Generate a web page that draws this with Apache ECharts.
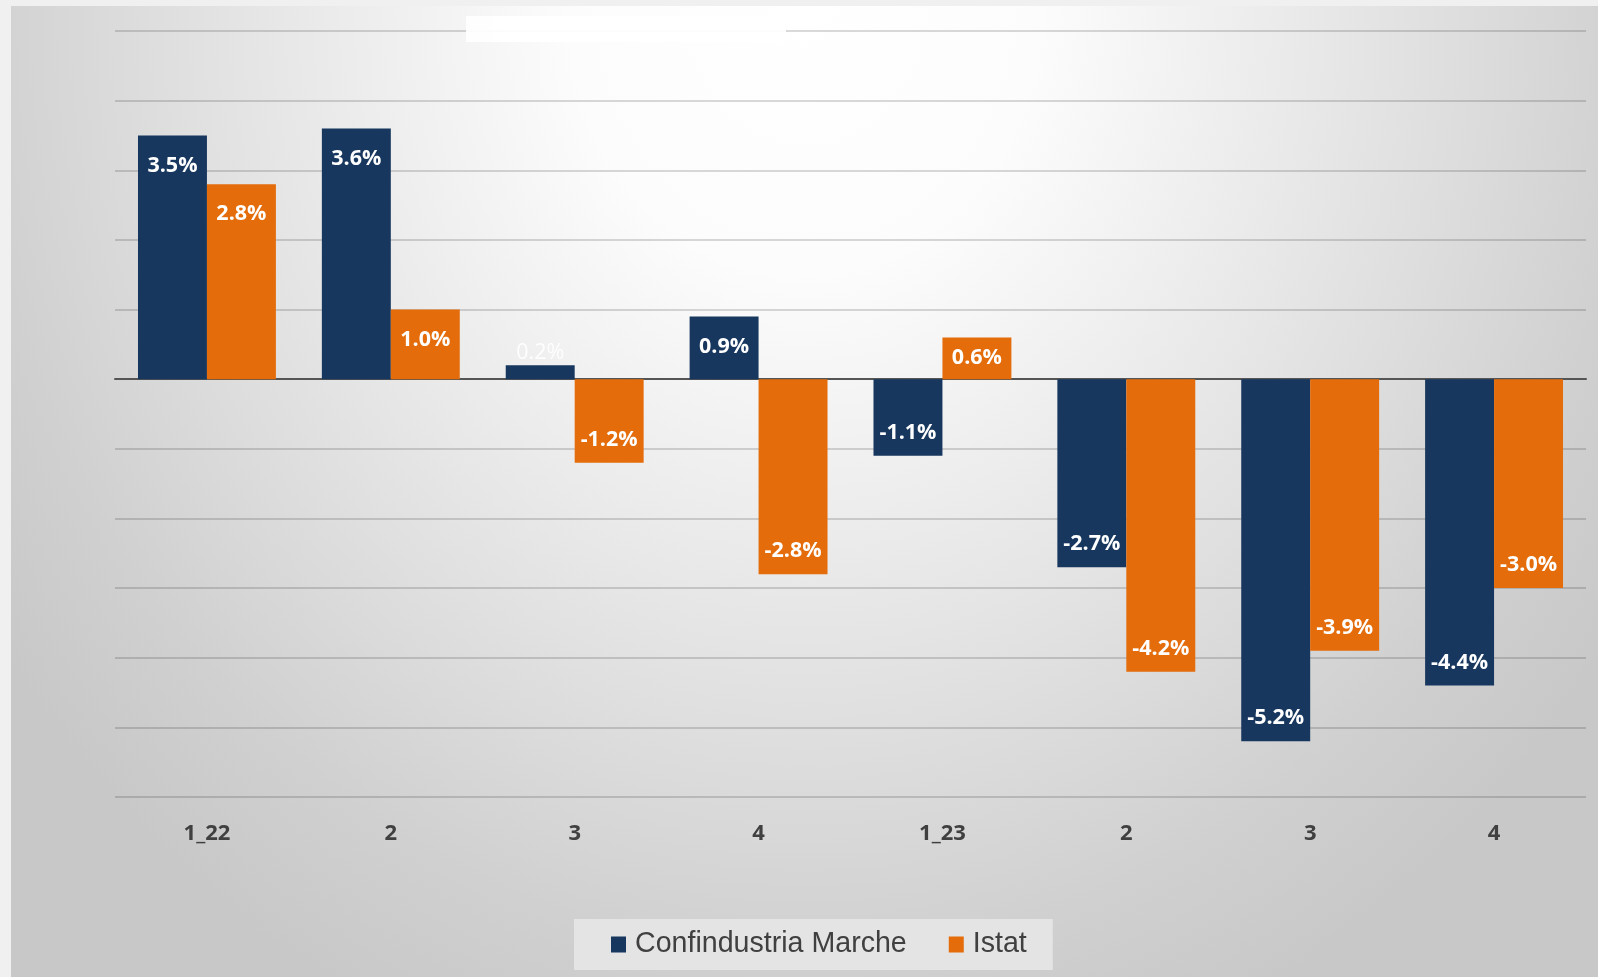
<!DOCTYPE html>
<html>
<head>
<meta charset="utf-8">
<script src="https://cdn.jsdelivr.net/npm/echarts@6/dist/echarts.min.js"></script>
<style>
  html, body { margin: 0; padding: 0; width: 1598px; height: 977px; overflow: hidden; background: #f0f0f0; }
  #bg { position: absolute; left: 11px; top: 6px; width: 1587px; height: 971px;
        background: radial-gradient(ellipse 62% 115% at 50% 0%, #ffffff 0%, #fcfcfc 24%, #e6e6e6 55%, #d0d0d0 85%, #c8c8c8 100%); }
  #chart { position: absolute; left: 0; top: 0; width: 1598px; height: 977px; }
</style>
</head>
<body>
<div id="bg"></div>
<div id="chart"></div>
<script>
const categories = ['1_22', '2', '3', '4', '1_23', '2', '3', '4'];
const confindustriaMarche = [3.5, 3.6, 0.2, 0.9, -1.1, -2.7, -5.2, -4.4];
const istat = [2.8, 1.0, -1.2, -2.8, 0.6, -4.2, -3.9, -3.0];
const seriesNames = ['Confindustria Marche', 'Istat'];

const NAVY = '#17375E';
const ORANGE = '#E46C0A';

function toItems(values) {
  return values.map(function (v) {
    const a = Math.abs(v);
    let label;
    if (a < 0.5) {
      label = { position: 'top', distance: 1, fontWeight: 'normal', color: 'rgba(255,255,255,0.9)' };
    } else if (a < 0.8) {
      label = { position: 'inside' };
    } else if (v >= 0) {
      label = { position: 'insideTop', distance: 19 };
    } else {
      label = { position: 'insideBottom', distance: 12 };
    }
    return { value: v, label: label };
  });
}

const labelBase = {
  show: true,
  color: '#ffffff',
  fontFamily: 'Open Sans',
  fontWeight: 'bold',
  fontSize: 21.5,
  formatter: function (p) { return p.value.toFixed(1) + '%'; }
};

const chart = echarts.init(document.getElementById('chart'), null, { renderer: 'canvas' });
chart.setOption({
  backgroundColor: 'transparent',
  animation: false,
  grid: { left: 115, right: 12, top: 31, bottom: 180, containLabel: false },
  legend: {
    data: seriesNames,
    left: 574,
    top: 919,
    orient: 'horizontal',
    backgroundColor: '#e4e4e4',
    padding: [11, 26, 11, 37],
    itemWidth: 15,
    itemHeight: 16,
    itemGap: 42,
    icon: 'rect',
    textStyle: { fontFamily: 'Liberation Sans', fontSize: 28.6, color: '#404040', padding: [0, 0, 0, 4] }
  },
  xAxis: {
    type: 'category',
    data: categories,
    axisLine: { onZero: true, lineStyle: { color: '#555555', width: 2 } },
    axisTick: { show: false },
    axisLabel: { interval: 0, margin: 26, color: '#404040', fontFamily: 'Open Sans', fontWeight: 'bold', fontSize: 22 },
    splitLine: { show: false }
  },
  yAxis: {
    type: 'value',
    min: -6,
    max: 5,
    interval: 1,
    axisLabel: { show: false },
    axisLine: { show: false },
    axisTick: { show: false },
    splitLine: { show: true, lineStyle: { color: 'rgba(0,0,0,0.2)', width: 1.5 } }
  },
  series: [
    {
      name: seriesNames[0],
      type: 'bar',
      data: toItems(confindustriaMarche),
      itemStyle: { color: NAVY },
      barGap: '0%',
      barCategoryGap: '25%',
      label: labelBase
    },
    {
      name: seriesNames[1],
      type: 'bar',
      data: toItems(istat),
      itemStyle: { color: ORANGE },
      barGap: '0%',
      barCategoryGap: '25%',
      label: labelBase
    }
  ],
  graphic: [
    {
      type: 'rect',
      left: 466, top: 16, z: 100,
      shape: { width: 320, height: 26 },
      style: { fill: 'rgba(255,255,255,0.9)' }
    }
  ]
});
</script>
</body>
</html>
